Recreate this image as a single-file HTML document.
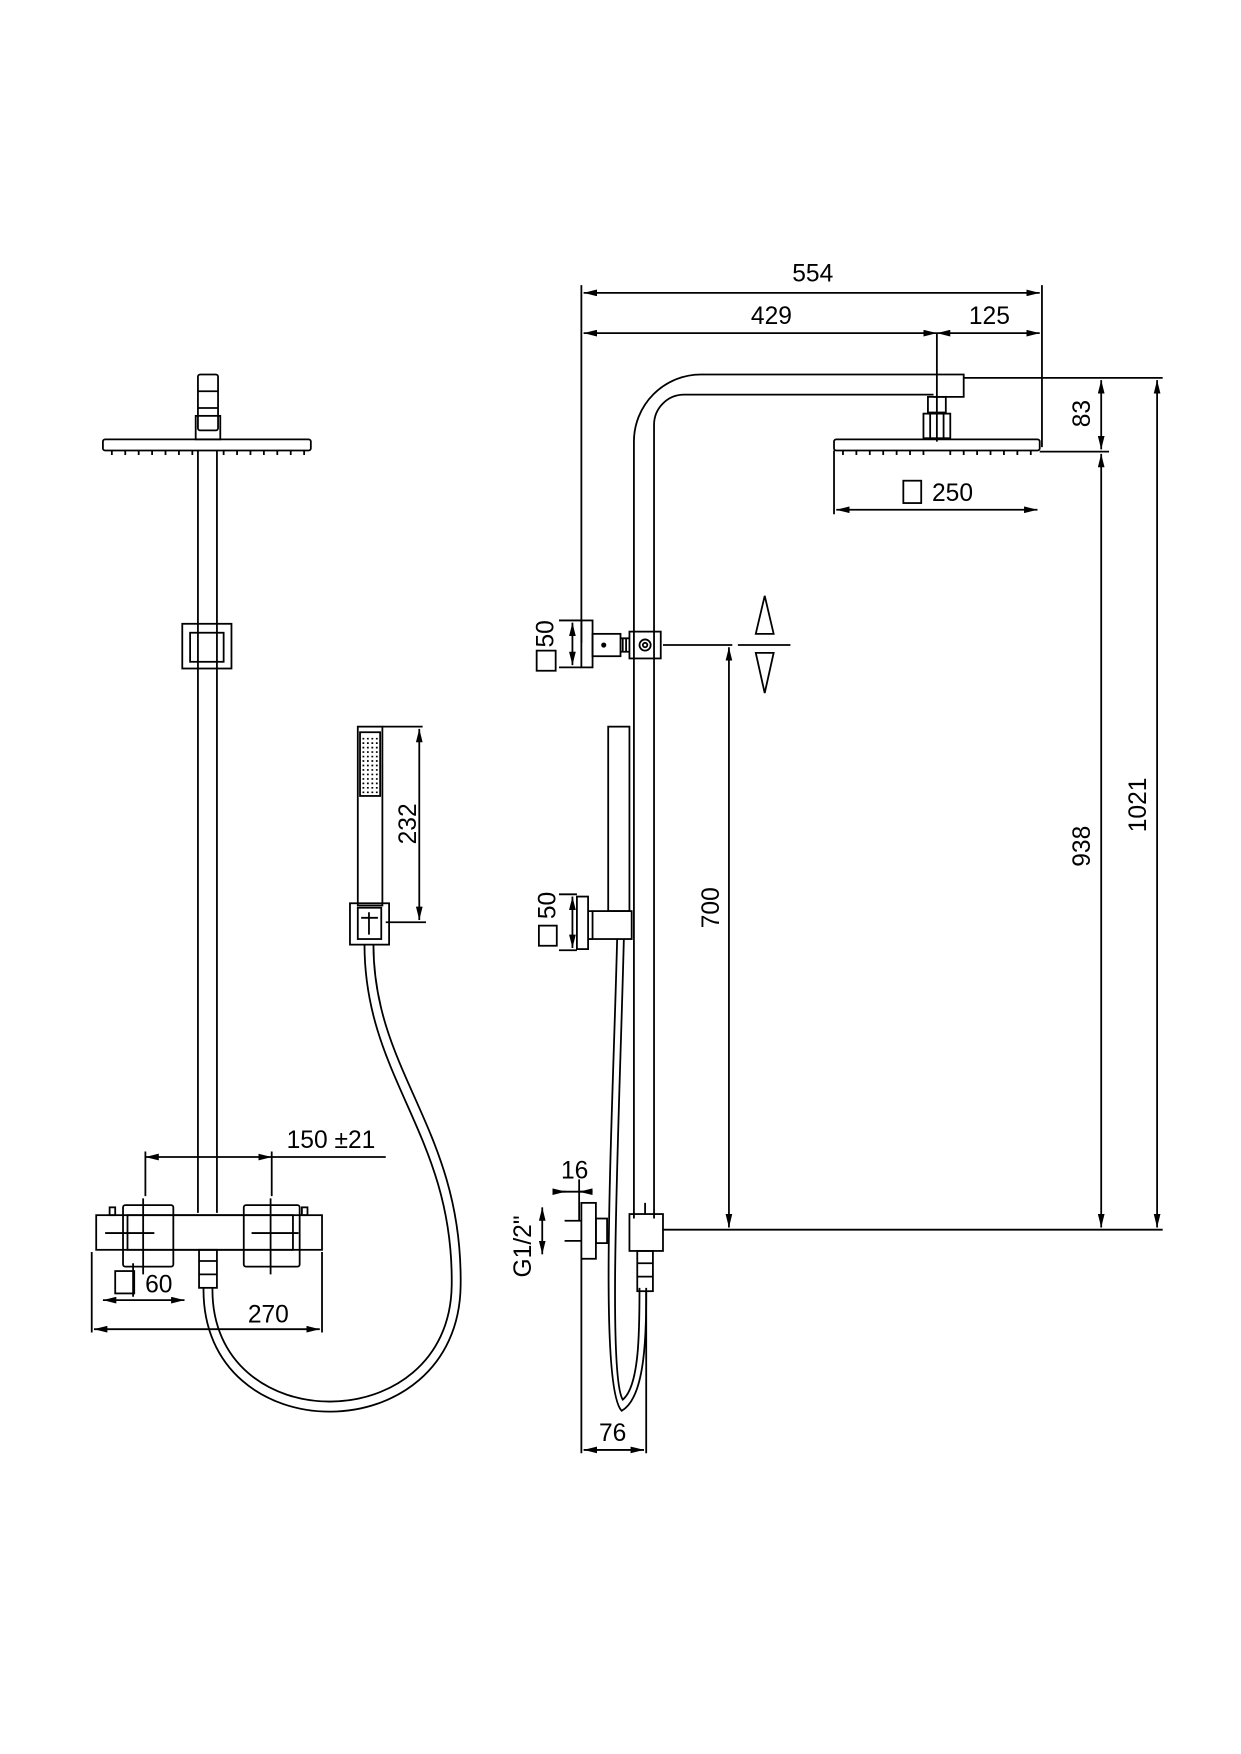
<!DOCTYPE html>
<html><head><meta charset="utf-8"><style>
html,body{margin:0;padding:0;background:#fff}
svg{display:block}
text{font-family:"Liberation Sans",sans-serif;font-size:22px;fill:#000}
</style></head><body>
<svg width="1241" height="1754" viewBox="0 0 1110 1569" xmlns="http://www.w3.org/2000/svg">
<defs>
<marker id="a" viewBox="0 0 12 6" refX="12" refY="3" markerWidth="12" markerHeight="6" orient="auto-start-reverse" markerUnits="userSpaceOnUse"><path d="M0,0L12,3L0,6z" fill="#000"/></marker>
</defs>
<g fill="none" stroke="#000" stroke-width="1.6">
<!-- LEFT VIEW -->
<rect x="177" y="335" width="18" height="50" rx="2"/>
<line x1="177" y1="350" x2="195" y2="350"/><line x1="177" y1="365" x2="195" y2="365"/>
<rect x="175" y="372" width="22" height="21"/>
<rect x="92" y="393" width="186" height="10" rx="2"/>
<path d="M100 403v4M112 403v4M124 403v4M136 403v4M148 403v4M160 403v4M172 403v4M200 403v4M212 403v4M224 403v4M236 403v4M248 403v4M260 403v4M272 403v4"/>
<line x1="177" y1="403" x2="177" y2="1085"/><line x1="194" y1="403" x2="194" y2="1085"/>
<rect x="163" y="558" width="44" height="40"/>
<rect x="170" y="566" width="30" height="26"/>
<!-- mixer -->
<rect x="110" y="1078" width="45" height="55" rx="2"/>
<rect x="218" y="1078" width="50" height="55" rx="2"/>
<rect x="86" y="1087" width="202" height="31"/>
<rect x="114" y="1087" width="148" height="31"/>
<path d="M94 1103h44M225 1103h42M128 1072v68M242 1072v68"/>
<rect x="98" y="1080" width="5" height="7"/><rect x="270" y="1080" width="5" height="7"/>
<rect x="178" y="1118" width="16" height="34"/>
<path d="M178 1128h16M178 1140h16"/>
<!-- hose -->
<path d="M182 1152 C180 1300, 410 1300, 412 1150 C414 1010, 334 960, 334 845"/>
<path d="M190 1152 C188 1288, 402 1288, 404 1150 C406 1015, 326 965, 326 845"/>
<!-- hand shower -->
<rect x="320" y="650" width="22" height="160"/>
<rect x="322" y="655" width="18" height="57"/>
<path d="M325 660v50M329 660v50M333 660v50M337 660v50" stroke-dasharray="1.5 2.5"/>
<rect x="313" y="808" width="35" height="37"/>
<rect x="320" y="812" width="21" height="28"/>
<path d="M323 821h15M330 816v20"/>
<!-- left dims -->
<path d="M342 650h36M345 825h36"/>
<line x1="375" y1="652" x2="375" y2="823" marker-start="url(#a)" marker-end="url(#a)"/>
<path d="M130 1030v40M243 1030v40"/>
<line x1="130" y1="1035" x2="243" y2="1035" marker-start="url(#a)" marker-end="url(#a)"/>
<line x1="243" y1="1035" x2="345" y2="1035"/>
<line x1="92" y1="1163" x2="165" y2="1163" marker-start="url(#a)" marker-end="url(#a)"/>
<path d="M119 1130v30M82 1120v72M288 1120v72"/>
<line x1="84" y1="1189" x2="286" y2="1189" marker-start="url(#a)" marker-end="url(#a)"/>
<rect x="103" y="1137" width="17" height="20"/>

<!-- RIGHT VIEW -->
<path d="M567 1090 V395 A60 60 0 0 1 627 335 H862 V355 H835"/>
<path d="M585 1090 V380 A27 27 0 0 1 612 353 H835"/>
<rect x="830" y="355" width="16" height="14"/>
<rect x="826" y="370" width="24" height="22"/>
<path d="M832 370v22M844 370v22"/>
<rect x="746" y="393" width="184" height="10" rx="2"/>
<path d="M754 403v4M766 403v4M778 403v4M790 403v4M802 403v4M814 403v4M826 403v4M850 403v4M862 403v4M874 403v4M886 403v4M898 403v4M910 403v4M922 403v4"/>
<!-- top bracket -->
<rect x="563" y="565" width="28" height="24"/>
<circle cx="577" cy="577" r="5"/><circle cx="577" cy="577" r="2"/>
<rect x="520" y="555" width="10" height="42"/>
<rect x="530" y="567" width="25" height="20"/>
<path d="M555 571h8M555 583h8M557 571v12M560 571v12"/>
<circle cx="540" cy="577" r="1.5" fill="#000"/>
<!-- hand shower side -->
<rect x="544" y="650" width="19" height="165"/>
<rect x="530" y="815" width="35" height="25"/>
<rect x="516" y="802" width="10" height="47"/>
<path d="M526 815h4M526 840h4"/>
<path d="M552 840 C548 1000, 535 1240, 556 1262 C578 1250, 578 1190, 578 1152"/>
<path d="M558 840 C554 1000, 543 1230, 557 1252 C572 1240, 572 1190, 572 1152"/>
<!-- lower connection -->
<rect x="563" y="1086" width="30" height="33"/>
<rect x="520" y="1076" width="13" height="50"/>
<rect x="533" y="1090" width="10" height="22"/>
<path d="M505 1092h15M505 1110h15"/>
<rect x="570" y="1119" width="14" height="36"/>
<path d="M570 1130h14M570 1142h14M577 1076v10"/>
<!-- right dims -->
<path d="M520 255V575M932 255V400M838 298V395M520 1126V1300M578 1155V1300"/>
<line x1="522" y1="262" x2="930" y2="262" marker-start="url(#a)" marker-end="url(#a)"/>
<line x1="522" y1="298" x2="838" y2="298" marker-start="url(#a)" marker-end="url(#a)"/>
<line x1="838" y1="298" x2="930" y2="298" marker-start="url(#a)" marker-end="url(#a)"/>
<path d="M862 338H1040M930 404H992M746 403V460M593 1100H1040M593 577H655M500 555H520M500 597H520M500 800H516M500 850H516"/>
<line x1="985" y1="340" x2="985" y2="402" marker-start="url(#a)" marker-end="url(#a)"/>
<line x1="985" y1="406" x2="985" y2="1098" marker-start="url(#a)" marker-end="url(#a)"/>
<line x1="1035" y1="340" x2="1035" y2="1098" marker-start="url(#a)" marker-end="url(#a)"/>
<line x1="748" y1="456" x2="928" y2="456" marker-start="url(#a)" marker-end="url(#a)"/>
<line x1="652" y1="579" x2="652" y2="1098" marker-start="url(#a)" marker-end="url(#a)"/>
<line x1="512" y1="557" x2="512" y2="595" marker-start="url(#a)" marker-end="url(#a)"/>
<line x1="512" y1="802" x2="512" y2="848" marker-start="url(#a)" marker-end="url(#a)"/>
<line x1="485" y1="1080" x2="485" y2="1122" marker-start="url(#a)" marker-end="url(#a)"/>
<path d="M495 1066H530M518 1055V1092"/>
<line x1="495" y1="1066" x2="506" y2="1066" marker-end="url(#a)"/>
<line x1="530" y1="1066" x2="518" y2="1066" marker-end="url(#a)"/>
<line x1="522" y1="1297" x2="576" y2="1297" marker-start="url(#a)" marker-end="url(#a)"/>
<path d="M660 577H707M684 533L676 567H692Z M684 620L676 584H692Z"/>
<rect x="808" y="430" width="16" height="20"/>
<rect x="480" y="582" width="17" height="18"/>
<rect x="482" y="828" width="16" height="18"/>
</g>
<text x="727" y="252" text-anchor="middle">554</text>
<text x="690" y="290" text-anchor="middle">429</text>
<text x="885" y="290" text-anchor="middle">125</text>
<text x="852" y="448" text-anchor="middle">250</text>
<text x="296" y="1027" text-anchor="middle">150 ±21</text>
<text x="142" y="1156" text-anchor="middle">60</text>
<text x="240" y="1183" text-anchor="middle">270</text>
<text x="514" y="1054" text-anchor="middle">16</text>
<text x="548" y="1289" text-anchor="middle">76</text>
<text transform="translate(372,737) rotate(-90)" text-anchor="middle">232</text>
<text transform="translate(975,370) rotate(-90)" text-anchor="middle">83</text>
<text transform="translate(1025,720) rotate(-90)" text-anchor="middle">1021</text>
<text transform="translate(975,757) rotate(-90)" text-anchor="middle">938</text>
<text transform="translate(643,812) rotate(-90)" text-anchor="middle">700</text>
<text transform="translate(495,567) rotate(-90)" text-anchor="middle">50</text>
<text transform="translate(497,810) rotate(-90)" text-anchor="middle">50</text>
<text transform="translate(475,1115) rotate(-90)" text-anchor="middle">G1/2"</text>
</svg>
</body></html>
